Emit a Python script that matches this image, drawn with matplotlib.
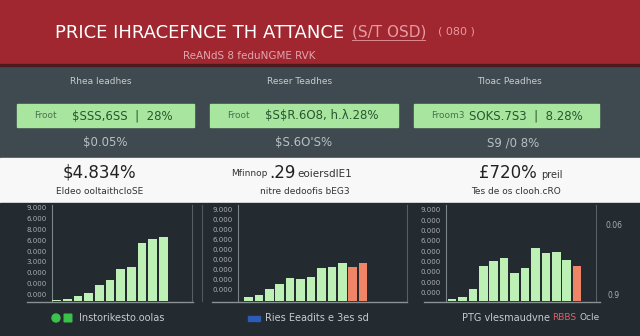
import numpy as np
import matplotlib
matplotlib.use("Agg")
import matplotlib.pyplot as plt
from matplotlib.patches import Rectangle, Circle, FancyBboxPatch

# header texts
title_txt = "PRICE IHRACEFNCE TH ATTANCE"
title_tag = "(S/T OSD)"
title_tag2 = "( 080 )"
subtitle_txt = "ReANdS 8 feduNGME RVK"

# card texts, one per panel
panel_heads = ["Rhea Ieadhes", "Reser Teadhes", "Tloac Peadhes"]
box_lbl = ["Froot", "Froot", "Froom3"]
box_val = ["$SSS,6SS  |  28%", "\\$S\\$R.6O8, h.λ.28%", "SOKS.7S3  |  8.28%"]
sub_txt = ["$0.05%", "$S.6O'S%", "S9 /0 8%"]
small_txt = ["Eldeo ooltaithcloSE", "nitre dedoofis bEG3", "Tes de os clooh.cRO"]

# bar values (0-100 scale)
vals1 = [1, 2.5, 5, 8.5, 17, 21.5, 33, 35.5, 60, 65, 67]
down1 = [0, 0, 0, 0, 0, 0, 0, 0, 0, 0, 0]
vals2 = [4, 6, 12.5, 17.5, 24, 22.5, 25.5, 34, 35, 40, 35, 40]
down2 = [0, 0, 0, 0, 0, 0, 0, 0, 0, 0, 1, 1]
vals3 = [2, 4, 12, 36, 42, 45, 29, 34, 55, 50, 51, 43, 36]
down3 = [0, 0, 0, 0, 0, 0, 0, 0, 0, 0, 0, 0, 1]

ticks_lbl = ["0.000", "0.000", "0.000", "3.000", "0.000", "6.000", "8.000", "6.000", "9.000"]
ticks_lbl2 = ["0.000", "0.000", "0.000", "0.000", "0.000", "6.000", "0.000", "0.000", "9.000"]

legend_txt = ["Instorikesto.oolas", "Ries Eeadits e 3es sd", "PTG vlesmaudvne"]

RED = "#a0272f"
SLATE = "#3e4a4f"
DARK = "#232a30"
BOXG = "#a8e6a0"
BARG = "#bdf0b4"
ORNG = "#f08466"

fig = plt.figure(figsize=(6.4, 3.36), dpi=100)
fig.patch.set_facecolor(DARK)

# background axes in pixel coords
bg = fig.add_axes([0, 0, 1, 1])
bg.set_xlim(0, 640)
bg.set_ylim(336, 0)
bg.axis("off")

bg.add_patch(Rectangle((0, 0), 640, 65, color=RED, zorder=0))
bg.add_patch(Rectangle((0, 64), 640, 2, color="#4a1a1e", zorder=1))
bg.add_patch(Rectangle((0, 66), 640, 92, color=SLATE, zorder=0))
bg.add_patch(Rectangle((0, 158), 640, 45, color="#f8f8f8", zorder=0))
bg.add_patch(Rectangle((0, 203), 640, 133, color=DARK, zorder=0))

bg.text(55, 33, title_txt, color="white", fontsize=13, ha="left", va="center")
bg.text(352, 32, title_tag, color="#e69aa2", fontsize=11, ha="left", va="center")
bg.plot([352, 425], [40, 40], color="#e69aa2", lw=0.6)
bg.text(438, 32, title_tag2, color="#e69aa2", fontsize=8, ha="left", va="center")
bg.text(249, 56, subtitle_txt, color="#e2a4ac", fontsize=7.5, ha="center", va="center")

head_x = [101, 300, 509]
box_x = [(17, 194), (210, 398), (414, 599)]
for i in range(3):
    bg.text(head_x[i], 81, panel_heads[i], color="#c8cccd", fontsize=6.5, ha="center", va="center")
    x0, x1 = box_x[i]
    bg.add_patch(Rectangle((x0, 104), x1 - x0, 23, color=BOXG, zorder=1))
    bg.text(x0 + 17, 115.5, box_lbl[i], color="#4c6e50", fontsize=6.5, ha="left", va="center", zorder=2)
    bg.text(x0 + 55, 115.5, box_val[i], color="#2a5530", fontsize=8.5, ha="left", va="center", zorder=2)
    bg.text(head_x[i] + 4, 143, sub_txt[i], color="#b9bfc1", fontsize=8.5, ha="center", va="center")

# white band texts
bg.text(99, 173, "$4.834%", color="#222222", fontsize=12, ha="center", va="center")
bg.text(268, 174, "Mfinnop", color="#333333", fontsize=6.5, ha="right", va="center")
bg.text(282, 173, ".29", color="#222222", fontsize=12, ha="center", va="center")
bg.text(297, 174, "eoiersdlE1", color="#333333", fontsize=7.5, ha="left", va="center")
bg.text(508, 173, "£720%", color="#222222", fontsize=12, ha="center", va="center")
bg.text(541, 175, "preil", color="#333333", fontsize=7, ha="left", va="center")
small_x = [100, 305, 516]
for i in range(3):
    bg.text(small_x[i], 192, small_txt[i], color="#333333", fontsize=6.5, ha="center", va="center")

# separator and baselines
bg.plot([201.7, 201.7], [205, 301], color="#4e585d", lw=0.8)
bg.plot([27, 193], [301.5, 301.5], color="#8a9296", lw=1)
bg.plot([212, 407], [301.5, 301.5], color="#8a9296", lw=1)
bg.plot([424, 600], [301.5, 301.5], color="#8a9296", lw=1)


def draw_panel(left, right, vals, down, xlim, tpos, tlbl):
    ax = fig.add_axes([left / 640, 1 - 301 / 336, (right - left) / 640, 96 / 336])
    ax.set_facecolor("none")
    x = np.arange(len(vals))
    cols = [ORNG if d else BARG for d in down]
    ax.bar(x, vals, width=0.82, color=cols, zorder=3)
    ax.set_xlim(*xlim)
    ax.set_ylim(0, 100)
    ax.set_xticks([])
    ax.set_yticks(tpos)
    ax.set_yticklabels(tlbl)
    ax.tick_params(axis="y", length=0, pad=4, labelsize=5, labelcolor="#a9afb3")
    for s in ["top", "bottom"]:
        ax.spines[s].set_visible(False)
    ax.spines["left"].set_color("#7c858a")
    ax.spines["right"].set_color("#566066")
    ax.spines["left"].set_linewidth(0.8)
    ax.spines["right"].set_linewidth(0.8)
    return ax


ax1 = draw_panel(52, 192, vals1, down1, (-0.45, 12.7), np.linspace(7, 97, 9), ticks_lbl)
ax2 = draw_panel(238, 407, vals2, down2, (-1.0, 15.2), np.linspace(11.5, 95, 9), ticks_lbl2)
ax3 = draw_panel(446, 596, vals3, down3, (-0.57, 13.8), np.linspace(9, 95, 9), ticks_lbl2)

bg.text(605, 225, "0.06", color="#a9afb3", fontsize=5.5, ha="left", va="center")
bg.text(607, 296, "0.9", color="#a9afb3", fontsize=5.5, ha="left", va="center")

# legends
bg.add_patch(Circle((56, 318), 4, color="#3cc24a", zorder=2))
bg.add_patch(FancyBboxPatch((64.5, 314.5), 7, 7, boxstyle="round,pad=0.3", color="#3cc24a", zorder=2))
bg.text(79, 318, legend_txt[0], color="#c8ccd0", fontsize=7, ha="left", va="center")
bg.add_patch(Rectangle((248, 316), 12, 4.5, color="#2a5cb8", zorder=2))
bg.text(265, 318, legend_txt[1], color="#c8ccd0", fontsize=7, ha="left", va="center")
bg.text(462, 318, legend_txt[2], color="#c8ccd0", fontsize=7, ha="left", va="center")
bg.text(552, 318, "RBBS", color="#e0606a", fontsize=6.5, ha="left", va="center")
bg.text(579, 318, "Ocle", color="#c8ccd0", fontsize=6.5, ha="left", va="center")

fig.savefig("out.png", dpi=100, facecolor=fig.get_facecolor())
